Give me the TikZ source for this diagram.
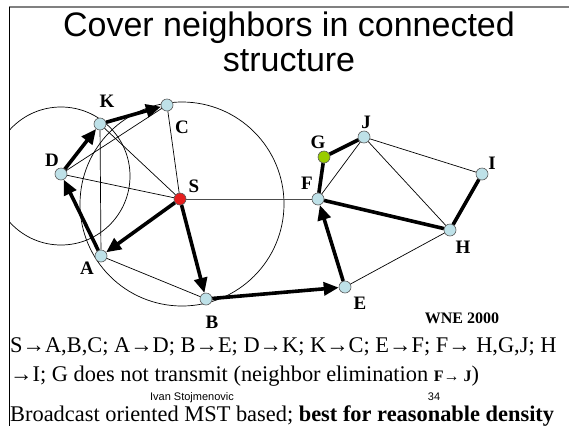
\documentclass[tikz,border=0pt]{standalone}
\usepackage{fontspec}
\setmainfont{Liberation Serif}
\newfontfamily\arial{Liberation Sans}
\usetikzlibrary{arrows.meta}
\definecolor{nodeblue}{RGB}{190,225,232}
\definecolor{sred}{RGB}{230,30,30}
\definecolor{ggreen}{RGB}{153,204,0}
\tikzset{
  nd/.style={circle,draw=gray!70!black,line width=0.6pt,fill=nodeblue,minimum size=12pt,inner sep=0pt},
  lab/.style={font=\fontsize{19}{19}\selectfont\bfseries,inner sep=0pt},
  thin edge/.style={line width=0.7pt},
  thick edge/.style={line width=3.6pt},
  arr/.style={thick edge,-{Triangle[length=15pt,width=13pt]}},
  body/.style={font=\fontsize{22.4}{22.4}\selectfont,inner sep=0pt,anchor=base west}
}
\begin{document}
\begin{tikzpicture}[x=1pt,y=-1pt]
\useasboundingbox (0,0) rectangle (569,426);
\fill[white] (0,0) rectangle (569,426);
% frame
\draw[gray,line width=1.5pt] (9,7) -- (569,7);
\draw[line width=1pt] (9,7) -- (9,426);
% title
\node[font=\arial\fontsize{34}{34}\selectfont,anchor=base,inner sep=0pt] (t1) at (289,36) {Cover neighbors in connected};
\node[font=\arial\fontsize{34}{34}\selectfont,anchor=base,inner sep=0pt] (t2) at (289,71) {structure};
% range circles
\begin{scope}
\clip (9,7) rectangle (569,426);
\draw[thin edge] (61,176) circle[radius=69pt];
\draw[thin edge] (182,204) circle[radius=102pt];
\end{scope}
% nodes
\node[nd,fill=sred] (S) at (180,199) {};
\node[nd] (K) at (100,124) {};
\node[nd] (C) at (167,105) {};
\node[nd] (D) at (61,174) {};
\node[nd] (A) at (101,256) {};
\node[nd] (B) at (206,299) {};
\node[nd] (E) at (345,287) {};
\node[nd] (F) at (318,199) {};
\node[nd,fill=ggreen] (G) at (324,157) {};
\node[nd] (J) at (364,137) {};
\node[nd] (I) at (482,174) {};
\node[nd] (H) at (450,230) {};
% thin edges
\draw[thin edge] (K) -- (S);
\draw[thin edge] (K) -- (A);
\draw[thin edge] (D) -- (C);
\draw[thin edge] (D) -- (S);
\draw[thin edge] (C) -- (S);
\draw[thin edge] (A) -- (B);
\draw[thin edge,gray!60!black] (S) -- (F);
\draw[thin edge] (F) -- (J);
\draw[thin edge] (J) -- (H);
\draw[thin edge] (J) -- (I);
\draw[thin edge] (E) -- (H);
% thick edges
\draw[arr] (S) -- (A);
\draw[arr] (S) -- (B);
\draw[arr] (A) -- (D);
\draw[arr] (D) -- (K);
\draw[arr] (K) -- (C);
\draw[arr] (B) -- (E);
\draw[arr] (E) -- (F);
\draw[thick edge] (F) -- (H);
\draw[thick edge] (H) -- (I);
\draw[thick edge] (F) -- (G);
\draw[thick edge] (G) -- (J);
% labels
\node[lab] (lK) at (107,101) {K};
\node[lab] (lC) at (182,127) {C};
\node[lab] (lD) at (52,160) {D};
\node[lab] (lS) at (194,186) {S};
\node[lab] (lA) at (87,268) {A};
\node[lab] (lB) at (212,322) {B};
\node[lab] (lE) at (360,303) {E};
\node[lab] (lF) at (307,183) {F};
\node[lab] (lG) at (318,142) {G};
\node[lab] (lJ) at (366,122) {J};
\node[lab] (lI) at (492,163) {I};
\node[lab] (lH) at (463,247) {H};
\node[font=\fontsize{16}{16}\selectfont\bfseries,inner sep=0pt] (wne) at (462,318) {WNE 2000};
% text
\node[body] (l1) at (10,352) {S→A,B,C; A→D; B→E; D→K; K→C; E→F; F→ H,G,J; H};
\node[body] (l2) at (10,381) {→I; G does not transmit (neighbor elimination {\fontsize{16}{16}\selectfont\bfseries F→ J})};
\node[font=\arial\fontsize{11}{11}\selectfont,inner sep=0pt,anchor=base] (auth) at (192,400) {Ivan Stojmenovic};
\node[font=\arial\fontsize{11}{11}\selectfont,inner sep=0pt,anchor=base] (pg) at (434,400) {34};
\node[body] (l3) at (10,421) {Broadcast oriented MST based; \textbf{best for reasonable density}};
\end{tikzpicture}
\end{document}
